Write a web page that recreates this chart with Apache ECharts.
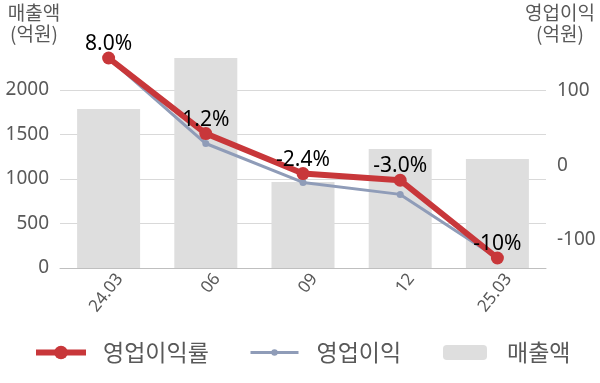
<!DOCTYPE html>
<html>
<head>
<meta charset="utf-8">
<script src="https://cdn.jsdelivr.net/npm/echarts@6/dist/echarts.min.js"></script>
<style>
html,body{margin:0;padding:0;background:#fff;}
#chart{width:600px;height:383px;}
</style>
</head>
<body>
<div id="chart"></div>
<script>
// ---- data ----
const categories = ['24.03', '06', '09', '12', '25.03'];
const revenue = [1787, 2360, 966, 1337, 1225];          // 매출액 (억원)
const operatingProfit = [143, 29, -23, -39, -124];      // 영업이익 (억원)
const operatingMargin = [8.0, 1.2, -2.4, -3.0, -10];     // 영업이익률 (%)
const marginLabels = ['8.0%', '1.2%', '-2.4%', '-3.0%', '-10%'];
const leftTicks = [0, 500, 1000, 1500, 2000];
const rightTicks = [-100, 0, 100];

const FONT = '"Noto Sans", "Noto Sans CJK KR", sans-serif';
const KFONT = '"Noto Sans CJK KR", "Noto Sans", sans-serif';
const GREY_TXT = '#595959';
const RED = '#C8373A';
const BLUE = '#8F9CB8';

const chart = echarts.init(document.getElementById('chart'), null, {renderer: 'canvas'});
chart.setOption({
  animation: false,
  textStyle: {fontFamily: FONT},
  grid: {left: 60, right: 54, top: 58, bottom: 115, containLabel: false},
  graphic: [
    {type: 'text', x: 34, y: 2, style: {text: '매출액\n(억원)', font: '19px ' + KFONT, fill: GREY_TXT, align: 'center', lineHeight: 21}},
    {type: 'text', x: 560, y: 2, style: {text: '영업이익\n(억원)', font: '19px ' + KFONT, fill: GREY_TXT, align: 'center', lineHeight: 21}}
  ],
  legend: [
    {
      left: 33, top: 341, padding: 0,
      itemWidth: 50, itemHeight: 17,
      textStyle: {fontSize: 23, color: GREY_TXT, fontFamily: KFONT, padding: [0, 0, 0, 12]},
      data: [{name: '영업이익률', lineStyle: {width: 6, color: RED}, itemStyle: {color: RED}}]
    },
    {
      left: 249, top: 341, padding: 0,
      itemWidth: 48, itemHeight: 8,
      textStyle: {fontSize: 23, color: GREY_TXT, fontFamily: KFONT, padding: [0, 0, 0, 13]},
      data: [{name: '영업이익', lineStyle: {width: 3, color: BLUE}, itemStyle: {color: BLUE}}]
    },
    {
      left: 443, top: 341, padding: 0,
      itemWidth: 44, itemHeight: 15,
      textStyle: {fontSize: 23, color: GREY_TXT, fontFamily: KFONT, padding: [0, 0, 0, 15]},
      data: ['매출액']
    }
  ],
  xAxis: {
    type: 'category',
    data: categories,
    axisLine: {lineStyle: {color: '#BFBFBF', width: 1}},
    axisTick: {show: false},
    axisLabel: {rotate: 52, fontSize: 17, color: GREY_TXT, margin: 22, padding: [0, -18, 0, 0], fontFamily: FONT}
  },
  yAxis: [
    {
      type: 'value', position: 'left', min: 0, max: 2360, interval: 500,
      axisLine: {show: false}, axisTick: {show: false},
      axisLabel: {fontSize: 19, color: GREY_TXT, margin: 11, showMaxLabel: false, fontFamily: FONT,
        formatter: v => leftTicks.includes(v) ? String(v) : ''},
      splitLine: {lineStyle: {color: '#D9D9D9', width: 1}, showMaxLine: false}
    },
    {
      type: 'value', position: 'right', min: -137.4, max: 143.3,
      axisLine: {show: false}, axisTick: {show: false},
      axisLabel: {fontSize: 19, color: GREY_TXT, margin: 11, showMinLabel: false, showMaxLabel: false, fontFamily: FONT,
        formatter: v => rightTicks.includes(v) ? String(v) : ''},
      splitLine: {show: false}
    },
    {
      type: 'value', show: false, min: -10.9, max: 8.0,
      splitLine: {show: false}
    }
  ],
  series: [
    {
      name: '매출액', type: 'bar', yAxisIndex: 0, data: revenue,
      barWidth: 63, itemStyle: {color: '#DEDEDE'}, z: 1
    },
    {
      name: '영업이익', type: 'line', yAxisIndex: 1, data: operatingProfit,
      symbol: 'circle', symbolSize: 7,
      lineStyle: {color: BLUE, width: 3},
      itemStyle: {color: BLUE}, z: 3
    },
    {
      name: '영업이익률', type: 'line', yAxisIndex: 2, data: operatingMargin,
      symbol: 'circle', symbolSize: 13,
      lineStyle: {color: RED, width: 6},
      itemStyle: {color: RED}, z: 4,
      label: {show: true, position: 'top', distance: -3, fontSize: 21, color: '#000', fontFamily: FONT,
        formatter: p => marginLabels[p.dataIndex]}
    }
  ]
});
</script>
</body>
</html>
